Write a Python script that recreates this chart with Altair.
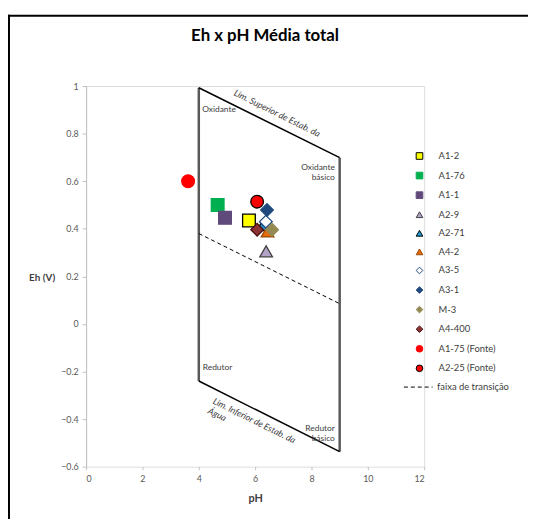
import altair as alt
import pandas as pd

FONT = "Lato"

# ---- data ----
series = ["A1-2", "A1-76", "A1-1", "A2-9", "A2-71", "A4-2", "A3-5", "A3-1",
          "M-3", "A4-400", "A1-75 (Fonte)", "A2-25 (Fonte)"]
ph = [5.78, 4.67, 4.93, 6.39, 6.28, 6.44, 6.38, 6.42, 6.60, 6.07, 3.62, 6.07]
eh = [0.435, 0.50, 0.446, 0.305, 0.415, 0.389, 0.43, 0.479, 0.396, 0.396, 0.60, 0.514]

fill_colors = ["#FFFF00", "#00B050", "#604A7B", "#B3A2C7", "#1F9BD7", "#E36C09",
               "#FFFFFF", "#1F497D", "#948A54", "#8B3333", "#FF0000", "#FF0000"]
stroke_colors = ["#000000", "#00B050", "#604A7B", "#404040", "#000000", "#984807",
                 "#1F497D", "#1F497D", "#948A54", "#4A1010", "#FF0000", "#000000"]
shapes = ["square", "square", "square", "triangle-up", "triangle-up", "triangle-up",
          "diamond", "diamond", "diamond", "diamond", "circle", "circle"]

# boundary of the stability field (pH, Eh)
bound_ph = [4, 9]
upper_eh = [0.993, 0.699]
lower_eh = [-0.240, -0.537]
trans_eh = [0.380, 0.085]

x_ticks = [0, 2, 4, 6, 8, 10, 12]
y_ticks = [-0.6, -0.4, -0.2, 0, 0.2, 0.4, 0.6, 0.8, 1]

# annotations
ann_left_text = ["Oxidante", "Redutor"]
ann_left_ph = [4.12, 4.14]
ann_left_eh = [0.905, -0.18]
ann_right_text = [["Oxidante", "básico"], ["Redutor", "básico"]]
ann_right_ph = [8.83, 8.83]
ann_right_eh = [0.66, -0.437]
ann_rot_text = [["Lim. Superior de Estab. da"], ["Lim. Inferior de Estab. da", "Água"]]
ann_rot_ph = [6.78, 4.52]
ann_rot_eh = [0.885, -0.322]

W, H = 342, 385
xs = alt.Scale(domain=[0, 12], nice=False, zero=False)
ys = alt.Scale(domain=[-0.6, 1], nice=False, zero=False)

xaxis = alt.Axis(values=x_ticks, title="pH", domain=False, grid=False, ticks=True,
                 tickSize=3, tickColor="#BFBFBF", labelColor="#595959", labelFontSize=9,
                 labelFont=FONT, labelPadding=5, titleFont=FONT, titleFontSize=11,
                 titleFontWeight="bold", titleColor="#404040", titlePadding=9)
yaxis = alt.Axis(values=y_ticks, format="~g", title="Eh (V)", domain=True,
                 domainColor="#BFBFBF", grid=False, tickSize=4, tickColor="#BFBFBF",
                 labelColor="#595959", labelFontSize=9, labelFont=FONT, labelPadding=4,
                 titleFont=FONT, titleFontSize=10, titleFontWeight="bold",
                 titleColor="#404040", titleAngle=0, titleX=-45, titleY=194,
                 titleAlign="center", titleBaseline="middle")


def X(field):
    return alt.X(field, scale=xs, axis=xaxis)


def Y(field):
    return alt.Y(field, scale=ys, axis=yaxis)


pts = pd.DataFrame({"serie": series, "pH": ph, "Eh": eh, "ordem": list(range(len(series)))})

legend_pts = alt.Legend(title=None, orient="none", legendX=332.5, legendY=66, padding=0,
                        symbolSize=45, symbolStrokeWidth=1, labelFontSize=9.5,
                        labelFont=FONT, labelColor="#404040", rowPadding=7.8,
                        labelOffset=14.5)

points = alt.Chart(pts).mark_point(filled=True, size=165, strokeWidth=1.3, opacity=1).encode(
    x=X("pH:Q"),
    y=Y("Eh:Q"),
    fill=alt.Fill("serie:N", scale=alt.Scale(domain=series, range=fill_colors), legend=legend_pts),
    stroke=alt.Stroke("serie:N", scale=alt.Scale(domain=series, range=stroke_colors), legend=legend_pts),
    shape=alt.Shape("serie:N", scale=alt.Scale(domain=series, range=shapes), legend=legend_pts),
    order=alt.Order("ordem:Q"),
)

verts = pd.DataFrame({"pH": bound_ph, "top": upper_eh, "bot": lower_eh})
vlines = alt.Chart(verts).mark_rule(color="#595959", strokeWidth=2.5).encode(
    x=X("pH:Q"), y=Y("top:Q"), y2="bot:Q",
)

slopes = pd.DataFrame({
    "pH": [bound_ph[0], bound_ph[0]], "x2": [bound_ph[1], bound_ph[1]],
    "Eh": [upper_eh[0], lower_eh[0]], "y2": [upper_eh[1], lower_eh[1]],
})
slines = alt.Chart(slopes).mark_rule(color="black", strokeWidth=1.5).encode(
    x=X("pH:Q"), x2="x2:Q", y=Y("Eh:Q"), y2="y2:Q",
)

trans = pd.DataFrame({"pH": bound_ph, "Eh": trans_eh, "tipo": ["faixa de transição"] * 2})
legend_line = alt.Legend(title=None, orient="none", legendX=321, legendY=289.5, padding=0,
                         symbolType="stroke", symbolSize=841, symbolStrokeColor="black",
                         symbolStrokeWidth=1, labelFontSize=9.5, labelFont=FONT,
                         labelColor="#404040", labelOffset=4)
tline = alt.Chart(trans).mark_line(color="black", strokeWidth=1).encode(
    x=X("pH:Q"), y=Y("Eh:Q"),
    strokeDash=alt.StrokeDash("tipo:N", scale=alt.Scale(domain=["faixa de transição"], range=[[4, 3]]),
                              legend=legend_line),
)

annL = pd.DataFrame({"t": ann_left_text, "pH": ann_left_ph, "Eh": ann_left_eh})
textL = alt.Chart(annL).mark_text(align="left", baseline="middle", font=FONT, fontSize=8.5,
                                   color="#404040").encode(x=X("pH:Q"), y=Y("Eh:Q"), text="t:N")

annR = pd.DataFrame({"t": ann_right_text, "pH": ann_right_ph, "Eh": ann_right_eh})
textR = alt.Chart(annR).mark_text(align="right", baseline="middle", font=FONT, fontSize=8.5,
                                   color="#404040", lineHeight=10).encode(
    x=X("pH:Q"), y=Y("Eh:Q"), text="t")

annT = pd.DataFrame({"t": [ann_rot_text[0]], "pH": [ann_rot_ph[0]], "Eh": [ann_rot_eh[0]]})
textT = alt.Chart(annT).mark_text(align="center", baseline="middle", font=FONT, fontSize=9,
                                   fontStyle="italic", color="#404040", angle=26.4).encode(
    x=X("pH:Q"), y=Y("Eh:Q"), text="t")

annB = pd.DataFrame({"t": [ann_rot_text[1]], "pH": [ann_rot_ph[1]], "Eh": [ann_rot_eh[1]]})
textB = alt.Chart(annB).mark_text(align="left", baseline="middle", font=FONT, fontSize=9,
                                   fontStyle="italic", color="#404040", angle=26.4,
                                   lineHeight=11).encode(
    x=X("pH:Q"), y=Y("Eh:Q"), text="t")

one = pd.DataFrame({"k": [0]})
title = alt.Chart(one).mark_text(text="Eh x pH Média total", font=FONT, fontSize=17,
                                  fontWeight="bold", color="#000000", align="center",
                                  baseline="middle").encode(x=alt.value(181), y=alt.value(-51))
frame_left = alt.Chart(one).mark_rule(color="black", strokeWidth=2).encode(
    x=alt.value(-78), y=alt.value(-72), y2=alt.value(440))
frame_top = alt.Chart(one).mark_rule(color="black", strokeWidth=2).encode(
    x=alt.value(-79), x2=alt.value(460), y=alt.value(-71))

chart = alt.layer(
    vlines, slines, tline, points, textL, textR, textT, textB, title, frame_left, frame_top
).properties(
    width=W, height=H,
    autosize=alt.AutoSizeParams(type="none"),
    padding={"left": 79, "top": 76, "right": 105, "bottom": 50},
).configure_view(strokeWidth=0, stroke="transparent").configure(background="white")

chart.save("out.html", embed_options={"renderer": "svg", "actions": False})
